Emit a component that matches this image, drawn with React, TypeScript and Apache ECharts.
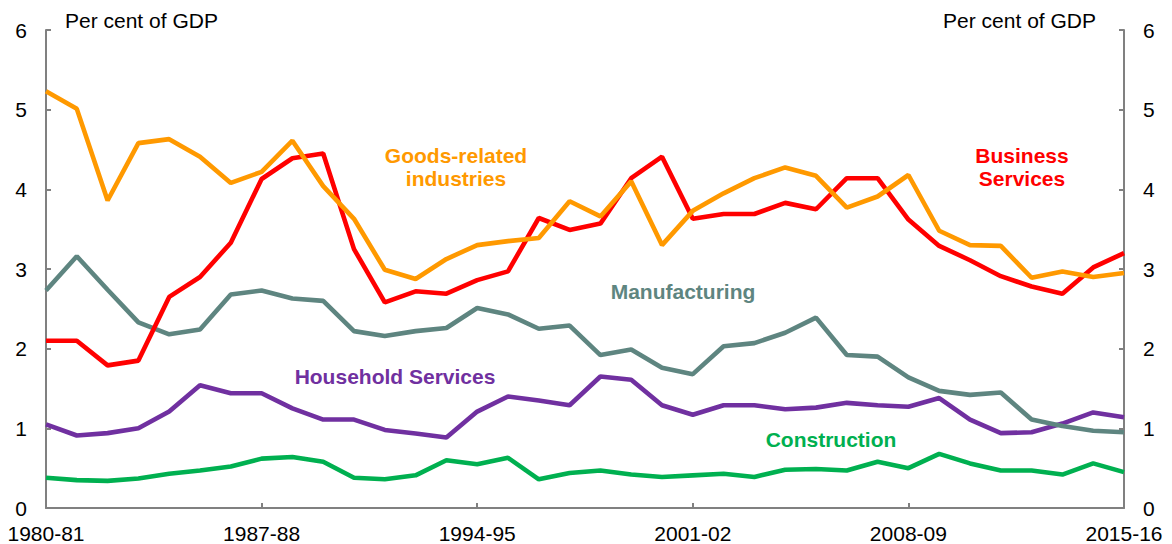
import React, { useEffect, useRef } from "react";
import * as echarts from "echarts";

const categories = [
  "1980-81", "1981-82", "1982-83", "1983-84", "1984-85", "1985-86", "1986-87",
  "1987-88", "1988-89", "1989-90", "1990-91", "1991-92", "1992-93", "1993-94",
  "1994-95", "1995-96", "1996-97", "1997-98", "1998-99", "1999-00", "2000-01",
  "2001-02", "2002-03", "2003-04", "2004-05", "2005-06", "2006-07", "2007-08",
  "2008-09", "2009-10", "2010-11", "2011-12", "2012-13", "2013-14", "2014-15",
  "2015-16",
];

const goodsRelated = [
  5.23, 5.01, 3.86, 4.58, 4.63, 4.41, 4.08, 4.22, 4.61, 4.04, 3.63, 2.99,
  2.875, 3.125, 3.3, 3.35, 3.39, 3.85, 3.66, 4.1, 3.3, 3.73, 3.95, 4.14,
  4.275, 4.17, 3.77, 3.91, 4.18, 3.48, 3.3, 3.29, 2.89, 2.97, 2.9, 2.95,
];

const businessServices = [
  2.1, 2.1, 1.79, 1.85, 2.65, 2.9, 3.33, 4.13, 4.39, 4.45, 3.25, 2.58,
  2.72, 2.69, 2.86, 2.97, 3.64, 3.49, 3.57, 4.14, 4.41, 3.63, 3.69, 3.69,
  3.83, 3.75, 4.14, 4.14, 3.62, 3.29, 3.11, 2.91, 2.78, 2.69, 3.02, 3.2,
];

const manufacturing = [
  2.73, 3.16, 2.74, 2.33, 2.18, 2.24, 2.68, 2.73, 2.63, 2.6, 2.22, 2.16,
  2.22, 2.26, 2.51, 2.43, 2.25, 2.29, 1.92, 1.99, 1.76, 1.68, 2.03, 2.07,
  2.2, 2.39, 1.92, 1.9, 1.64, 1.47, 1.42, 1.45, 1.11, 1.03, 0.97, 0.95,
];

const householdServices = [
  1.05, 0.91, 0.94, 1.0, 1.21, 1.54, 1.44, 1.44, 1.25, 1.11, 1.11, 0.98,
  0.935, 0.885, 1.21, 1.4, 1.35, 1.29, 1.65, 1.61, 1.29, 1.17, 1.29, 1.29,
  1.24, 1.26, 1.32, 1.29, 1.27, 1.38, 1.11, 0.94, 0.95, 1.06, 1.2, 1.14,
];

const construction = [
  0.38, 0.35, 0.34, 0.37, 0.43, 0.47, 0.52, 0.62, 0.64, 0.58, 0.38, 0.36,
  0.41, 0.6, 0.55, 0.63, 0.36, 0.44, 0.47, 0.42, 0.39, 0.41, 0.43, 0.39,
  0.48, 0.49, 0.47, 0.58, 0.5, 0.68, 0.56, 0.47, 0.47, 0.42, 0.56, 0.45,
];

const FONT = "'Liberation Sans', Arial, Helvetica, sans-serif";
const AXIS_GRAY = "#808080";

const COLORS = {
  goods: "#FF9900",
  business: "#FF0000",
  manufacturing: "#5E8580",
  household: "#7030A0",
  construction: "#00B050",
};

export default function App() {
  const ref = useRef<HTMLDivElement>(null);

  useEffect(() => {
    if (!ref.current) return;
    const chart = echarts.init(ref.current, null, { renderer: "svg" });

    const yAxisCommon = {
      type: "value" as const,
      min: 0,
      max: 6,
      interval: 1,
      splitLine: { show: false },
      axisLine: { show: true, lineStyle: { color: AXIS_GRAY, width: 2 } },
      axisTick: { show: true, inside: true, length: 5, lineStyle: { color: AXIS_GRAY, width: 2 } },
      axisLabel: { color: "#000", fontSize: 21, fontFamily: FONT, margin: 19 },
    };

    const line = (name: string, data: number[], color: string) => ({
      name,
      type: "line" as const,
      data,
      symbol: "none",
      lineStyle: { color, width: 4.6 },
      itemStyle: { color },
      xAxisIndex: 0,
      yAxisIndex: 0,
    });

    const label = (text: string, x: number, y: number, color: string) => ({
      type: "text" as const,
      x,
      y,
      style: {
        text,
        fill: color,
        font: `bold 21px ${FONT}`,
        textAlign: "center",
        textVerticalAlign: "middle",
        lineHeight: 23,
      },
    });

    chart.setOption({
      animation: false,
      backgroundColor: "#fff",
      grid: { left: 46, right: 48, top: 30, bottom: 36, containLabel: false },
      xAxis: {
        type: "category",
        data: categories,
        boundaryGap: false,
        axisLine: { show: true, lineStyle: { color: AXIS_GRAY, width: 2 } },
        axisTick: {
          show: true,
          inside: true,
          length: 5,
          interval: 6,
          alignWithLabel: true,
          lineStyle: { color: AXIS_GRAY, width: 2 },
        },
        axisLabel: {
          interval: 6,
          color: "#000",
          fontSize: 21,
          fontFamily: FONT,
          margin: 15,
          showMinLabel: true,
          showMaxLabel: true,
        },
        splitLine: { show: false },
      },
      yAxis: [
        { ...yAxisCommon, position: "left" },
        { ...yAxisCommon, position: "right" },
      ],
      series: [
        line("Construction", construction, COLORS.construction),
        line("Household Services", householdServices, COLORS.household),
        line("Manufacturing", manufacturing, COLORS.manufacturing),
        line("Business Services", businessServices, COLORS.business),
        line("Goods-related industries", goodsRelated, COLORS.goods),
      ],
      graphic: [
        {
          type: "text",
          x: 65,
          y: 20,
          style: {
            text: "Per cent of GDP",
            fill: "#000",
            font: `21px ${FONT}`,
            textAlign: "left",
            textVerticalAlign: "middle",
          },
        },
        {
          type: "text",
          x: 1096,
          y: 20,
          style: {
            text: "Per cent of GDP",
            fill: "#000",
            font: `21px ${FONT}`,
            textAlign: "right",
            textVerticalAlign: "middle",
          },
        },
        label("Goods-related\nindustries", 456, 167, COLORS.goods),
        label("Business\nServices", 1022, 167, COLORS.business),
        label("Manufacturing", 683, 291, COLORS.manufacturing),
        label("Household Services", 395, 376, COLORS.household),
        label("Construction", 831, 439, COLORS.construction),
      ],
    });

    return () => chart.dispose();
  }, []);

  return (
    <div
      ref={ref}
      style={{ position: "absolute", left: 0, top: 0, width: 1172, height: 544 }}
    />
  );
}
